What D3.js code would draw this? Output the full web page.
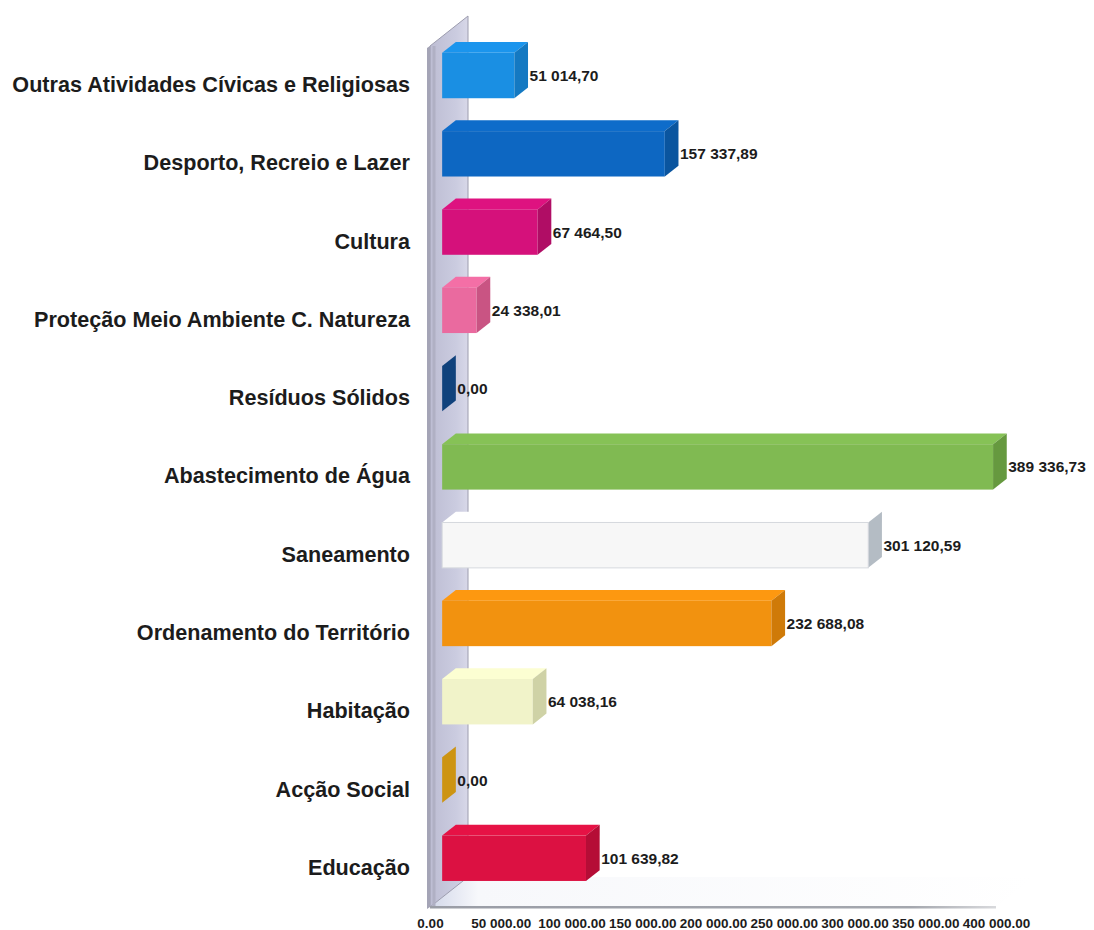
<!DOCTYPE html>
<html>
<head>
<meta charset="utf-8">
<script src="https://cdn.jsdelivr.net/npm/d3@7"></script>
<style>
  html, body { margin: 0; padding: 0; background: #fff; }
  svg { display: block; }
  text { font-family: "Liberation Sans", Arial, sans-serif; font-weight: bold; fill: #1c1c1c; }
</style>
</head>
<body>
<svg id="chart" width="1094" height="930"></svg>
<script>
// Investment by function (euros)
const categories = [
  "Outras Atividades Cívicas e Religiosas",
  "Desporto, Recreio e Lazer",
  "Cultura",
  "Proteção Meio Ambiente C. Natureza",
  "Resíduos Sólidos",
  "Abastecimento de Água",
  "Saneamento",
  "Ordenamento do Território",
  "Habitação",
  "Acção Social",
  "Educação"
];
const values = [51014.70, 157337.89, 67464.50, 24338.01, 0.00, 389336.73, 301120.59, 232688.08, 64038.16, 0.00, 101639.82];
const barColors = ["#1a8fe3", "#0d67c2", "#d5117b", "#ea6a9f", "#17549c", "#80ba52", "#f7f7f7", "#f2920f", "#f1f3c9", "#f0b11e", "#dc1142"];
const sideColors = ["#1479c2", "#0a559f", "#b00d65", "#c95483", "#10427c", "#66993f", "#b4bcc4", "#cf7a08", "#cfd2a6", "#cd9412", "#b50d36"];
const tickValues = [0, 50000, 100000, 150000, 200000, 250000, 300000, 350000, 400000];

const svg = d3.select("#chart");

// front plane scales
const x = d3.scaleLinear().domain([0, 400000]).range([430, 996]);
const y = d3.scaleBand().domain(categories).range([46, 907]).paddingInner(0.42).paddingOuter(0.21);

// 3D depth vector of the plot box; bars sit between f1 and f2 of the depth
const D = { x: 38, y: -30 };
const f1 = 0.32, f2 = 0.68;
const floorY = 907, topY = 46;

const defs = svg.append("defs");
const wallGrad = defs.append("linearGradient").attr("id", "wallGrad").attr("x1", 0).attr("x2", 1).attr("y1", 0).attr("y2", 0);
wallGrad.append("stop").attr("offset", "0%").attr("stop-color", "#bdbdd3");
wallGrad.append("stop").attr("offset", "70%").attr("stop-color", "#cbcce0");
wallGrad.append("stop").attr("offset", "100%").attr("stop-color", "#d8d8e8");
const floorGrad = defs.append("linearGradient").attr("id", "floorGrad").attr("x1", 0).attr("x2", 1).attr("y1", 0).attr("y2", 0);
floorGrad.append("stop").attr("offset", "0%").attr("stop-color", "#d3d8ea");
floorGrad.append("stop").attr("offset", "8%").attr("stop-color", "#f7f8fb");
floorGrad.append("stop").attr("offset", "100%").attr("stop-color", "#ffffff");
const edgeGrad = defs.append("linearGradient").attr("id", "edgeGrad").attr("x1", 0).attr("x2", 1).attr("y1", 0).attr("y2", 0);
edgeGrad.append("stop").attr("offset", "0%").attr("stop-color", "#9a9da6");
edgeGrad.append("stop").attr("offset", "85%").attr("stop-color", "#a4a7ae");
edgeGrad.append("stop").attr("offset", "100%").attr("stop-color", "#d8d9dc");

const pts = a => a.map(p => p.join(",")).join(" ");

// floor
svg.append("polygon")
  .attr("points", pts([[x(0), floorY], [x(400000), floorY], [x(400000) + D.x, floorY + D.y], [x(0) + D.x, floorY + D.y]]))
  .attr("fill", "url(#floorGrad)");

// side wall
svg.append("polygon")
  .attr("points", pts([[x(0), topY], [x(0) + D.x, topY + D.y], [x(0) + D.x, floorY + D.y], [x(0), floorY]]))
  .attr("fill", "url(#wallGrad)")
  .attr("stroke", "#9c9cae").attr("stroke-width", 1);
// wall thickness strip
svg.append("polygon")
  .attr("points", pts([[x(0) - 3, topY + 2], [x(0), topY], [x(0), floorY], [x(0) - 3, floorY + 2]]))
  .attr("fill", "#a4a4b6");
svg.append("line")
  .attr("x1", x(0) + 4).attr("y1", topY).attr("x2", x(0) + 4).attr("y2", floorY)
  .attr("stroke", "#b0b0c4").attr("stroke-width", 3);

// floor front edge
svg.append("rect")
  .attr("x", x(0)).attr("y", floorY - 1).attr("width", x(400000) - x(0)).attr("height", 2.5)
  .attr("fill", "url(#edgeGrad)");

// bars
const bars = svg.append("g").selectAll("g").data(categories).join("g");
bars.each(function (c, i) {
  const g = d3.select(this);
  const v = values[i];
  const x0 = x(0) + D.x * f1, x1 = x(v) + D.x * f1;
  const yTop = y(c) + D.y * f1, yBot = yTop + y.bandwidth();
  const dx = D.x * (f2 - f1), dy = D.y * (f2 - f1);
  const base = d3.color(barColors[i]);
  // top face
  g.append("polygon")
    .attr("points", pts([[x0, yTop], [x1, yTop], [x1 + dx, yTop + dy], [x0 + dx, yTop + dy]]))
    .attr("fill", base.brighter(0.12));
  // front face
  g.append("rect")
    .attr("x", x0).attr("y", yTop).attr("width", Math.max(0, x1 - x0)).attr("height", y.bandwidth())
    .attr("fill", base);
  // right face
  g.append("polygon")
    .attr("points", pts([[x1, yTop], [x1 + dx, yTop + dy], [x1 + dx, yBot + dy], [x1, yBot]]))
    .attr("fill", sideColors[i]);
  if (i === 6) {
    g.append("rect").attr("x", x0).attr("y", yTop).attr("width", x1 - x0).attr("height", y.bandwidth())
      .attr("fill", "none").attr("stroke", "#d6d9de").attr("stroke-width", 1);
  }
});

// value labels
const valueFmt = d3.formatLocale({ decimal: ",", thousands: " ", grouping: [3], currency: ["", ""] }).format(",.2f");
svg.append("g").selectAll("text").data(categories).join("text")
  .attr("x", (c, i) => x(values[i]) + D.x * f2 + 1.5)
  .attr("y", c => y(c) + D.y * f1 + y.bandwidth() / 2)
  .attr("dy", "0.36em")
  .attr("font-size", "15.5px")
  .text((c, i) => valueFmt(values[i]));

// category axis
const yAxis = svg.append("g")
  .attr("transform", "translate(410,0)")
  .call(d3.axisLeft(y).tickSize(0).tickPadding(0));
yAxis.select(".domain").remove();
yAxis.selectAll("text")
  .attr("font-size", "21.6px")
  .attr("font-family", null)
  .style("fill", "#1c1c1c");

// value axis
const tickFmt = d3.formatLocale({ decimal: ".", thousands: " ", grouping: [3], currency: ["", ""] }).format(",.2f");
const xAxis = svg.append("g")
  .attr("transform", `translate(0,${floorY + 11})`)
  .call(d3.axisBottom(x).tickValues(tickValues).tickFormat(tickFmt).tickSize(0).tickPadding(0));
xAxis.select(".domain").remove();
xAxis.selectAll("text")
  .attr("font-size", "13.5px")
  .attr("font-family", null)
  .style("fill", "#1c1c1c");
</script>
</body>
</html>
